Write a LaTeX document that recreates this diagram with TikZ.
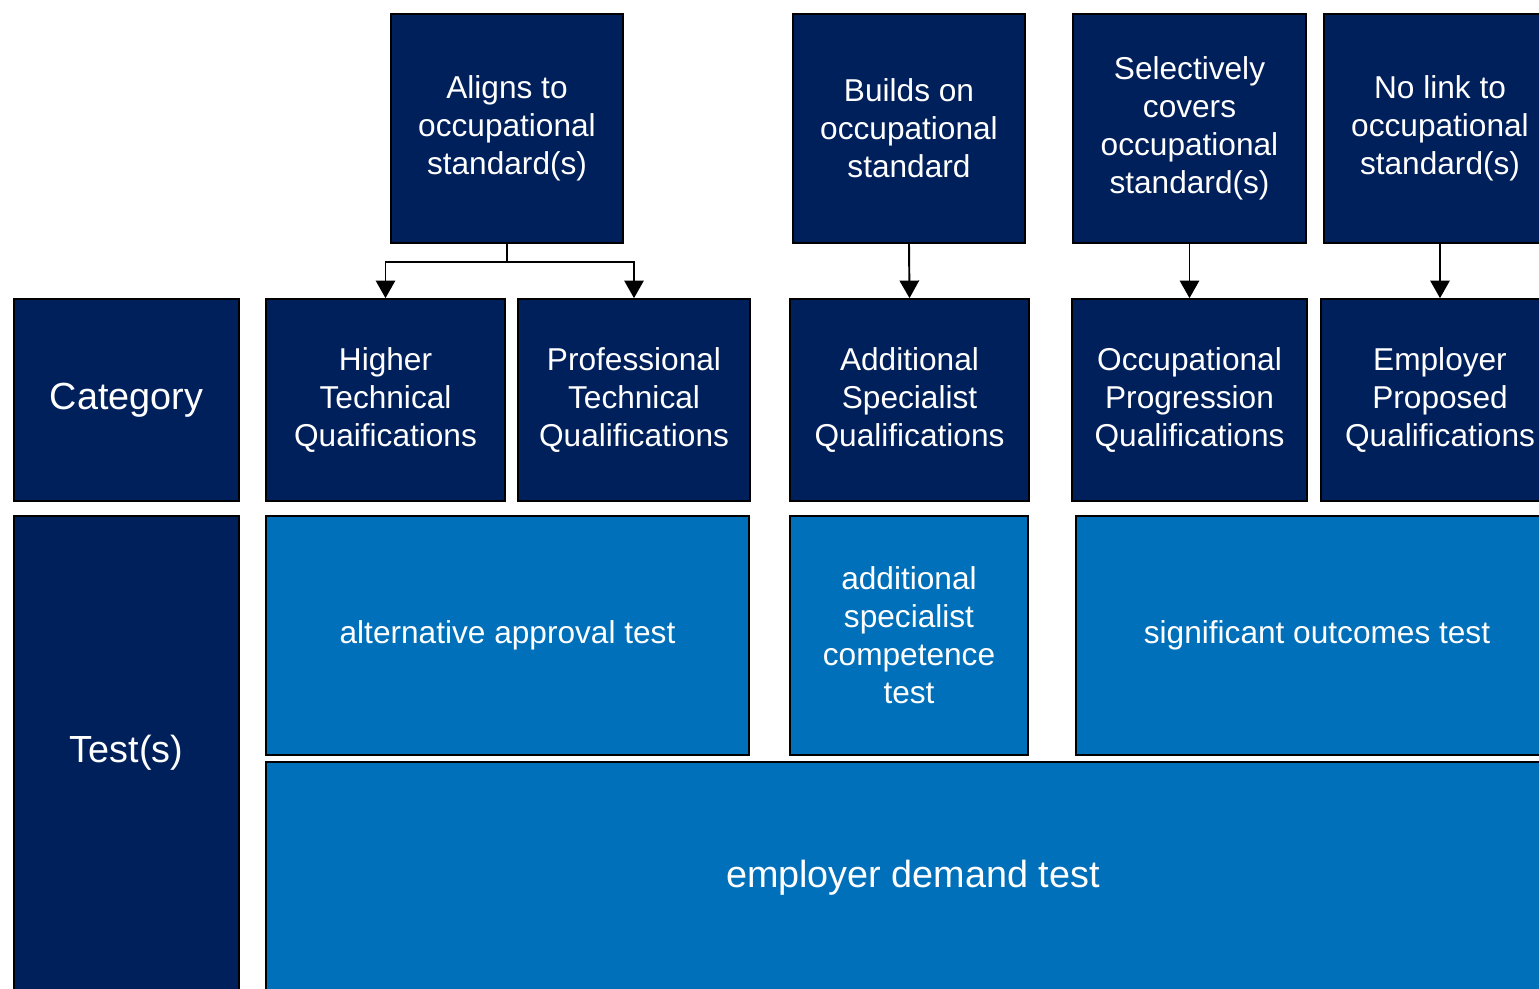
\documentclass[tikz,border=0pt]{standalone}
\usepackage{fontspec}
\setmainfont{Liberation Sans}
\usetikzlibrary{arrows.meta}

\definecolor{navy}{RGB}{0,32,91}
\definecolor{midblue}{RGB}{0,112,186}

\begin{document}
\begin{tikzpicture}[x=0.02cm,y=-0.02cm]
    \tikzset{
        box/.style = {draw=black, line width=1pt, text=white, align=center,
            inner sep=0pt, font=\fontsize{18}{21.6}\selectfont},
        dark/.style = {box, fill=navy},
        light/.style = {box, fill=midblue},
        big/.style = {font=\fontsize{21.5}{25}\selectfont},
        arr/.style = {line width=1.1pt, -{Triangle[width=11pt,length=10pt]}}
    }
    \useasboundingbox (0,0) rectangle (1539,988);
    \clip (0,0) rectangle (1539,988);

    \node[dark, minimum width=4.64cm, minimum height=4.58cm] (aligns) at (507,128.5) {Aligns to\\occupational\\standard(s)};
    \node[dark, minimum width=4.64cm, minimum height=4.58cm] (builds) at (909,128.5) {Builds on\\occupational\\standard};
    \node[dark, minimum width=4.66cm, minimum height=4.58cm] (select) at (1189.5,128.5) {Selectively\\covers\\occupational\\standard(s)};
    \node[dark, minimum width=4.64cm, minimum height=4.58cm] (nolink) at (1440,128.5) {No link to\\occupational\\standard(s)};

    \node[dark, big, minimum width=4.5cm, minimum height=4.04cm] (category) at (126.5,400) {Category};
    \node[dark, minimum width=4.78cm, minimum height=4.04cm] (higher) at (385.5,400) {Higher\\Technical\\Quaifications};
    \node[dark, minimum width=4.64cm, minimum height=4.04cm] (prof) at (634,400) {Professional\\Technical\\Qualifications};
    \node[dark, minimum width=4.78cm, minimum height=4.04cm] (addq) at (909.5,400) {Additional\\Specialist\\Qualifications};
    \node[dark, minimum width=4.7cm, minimum height=4.04cm] (occq) at (1189.5,400) {Occupational\\Progression\\Qualifications};
    \node[dark, minimum width=4.76cm, minimum height=4.04cm] (empq) at (1440,400) {Employer\\Proposed\\Qualifications};

    \node[dark, big, minimum width=4.5cm, minimum height=9.48cm] (tests) at (126.5,753) {Test(s)};
    \node[light, minimum width=9.66cm, minimum height=4.78cm] (altest) at (507.5,635.5) {alternative approval test};
    \node[light, minimum width=4.76cm, minimum height=4.78cm] (asctest) at (909,635.5) {additional\\specialist\\competence\\test};
    \node[light, minimum width=9.64cm, minimum height=4.78cm] (sotest) at (1317,635.5) {significant outcomes test};
    \node[light, big, minimum width=25.88cm, minimum height=4.64cm] (edtest) at (913,878) {employer demand test};

    \coordinate (fork) at (507,262);
    \draw[line width=1.1pt] (aligns.south) -- (fork);
    \draw[arr] (fork) -| (higher.north);
    \draw[arr] (fork) -| (prof.north);
    \draw[arr] (builds.south) -- (addq.north);
    \draw[arr] (select.south) -- (occq.north);
    \draw[arr] (nolink.south) -- (empq.north);
\end{tikzpicture}
\end{document}
